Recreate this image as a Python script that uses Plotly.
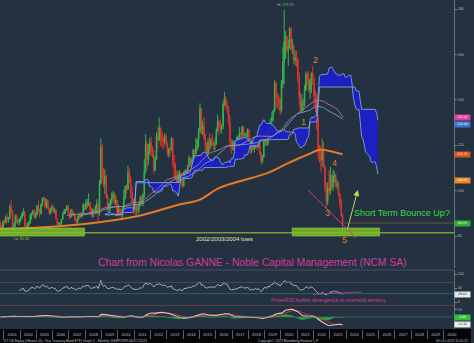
import numpy as np
import pandas as pd
import plotly.graph_objects as go

# ---------------- data (monthly bars, Oct 2002 - Oct 2023) ----------------
opens = [
    86.0, 84.0, 82.8,
    86.3, 85.9, 88.5, 87.4, 87.6, 93.0, 91.1, 84.0, 84.3, 89.1, 86.3, 86.6,
    86.9, 88.1, 90.2, 90.9, 84.6, 84.0, 84.9, 85.7, 89.2, 89.8, 91.0, 88.2,
    89.5, 93.2, 91.2, 89.8, 93.7, 96.5, 96.7, 93.0, 95.5, 92.3, 90.2, 91.5,
    92.7, 91.1, 91.4, 87.6, 85.0, 85.2, 85.6, 87.4, 89.8, 91.3, 91.4, 93.3,
    90.0, 88.4, 91.5, 89.6, 89.8, 86.9, 86.0, 88.3, 89.5, 88.5, 89.8, 93.8,
    92.0, 94.6, 94.7, 94.8, 91.8, 89.3, 91.5, 90.9, 92.8, 93.9, 90.3, 103.0,
    119.2, 106.1, 102.6, 106.5, 97.2, 92.2, 94.4, 95.8, 96.5, 98.7, 94.6, 95.6,
    89.9, 91.9, 90.6, 89.2, 92.1, 96.8, 101.8, 100.5, 107.8, 105.2, 99.2, 95.3,
    93.9, 91.3, 92.6, 91.3, 93.2, 96.9, 94.3, 98.3, 108.6, 120.6, 113.7, 117.0,
    121.2, 118.1, 115.5, 109.0, 114.0, 124.0, 122.3, 127.6, 124.6, 121.7, 121.3, 124.0,
    121.2, 116.2, 118.3, 118.0, 122.8, 111.9, 109.5, 106.5, 103.8, 106.0, 107.6, 104.4,
    102.0, 108.0, 108.9, 108.0, 110.8, 114.4, 112.4, 113.3, 117.7, 116.2, 119.7, 122.4,
    125.9, 136.0, 127.0, 128.6, 123.3, 119.1, 116.4, 121.4, 120.0, 122.2, 121.3, 120.3,
    120.6, 126.5, 130.5, 128.5, 127.3, 128.4, 137.9, 140.6, 137.0, 136.8, 130.0, 121.6,
    119.1, 119.5, 121.0, 119.7, 121.9, 123.8, 125.1, 124.7, 128.1, 124.5, 124.6, 124.8,
    126.9, 121.2, 118.1, 121.3, 118.3, 120.6, 121.5, 119.1, 121.2, 116.3, 112.9, 114.9,
    121.5, 122.4, 120.4, 126.5, 124.2, 131.0, 132.8, 135.4, 147.6, 142.2, 140.9, 140.4,
    135.5, 147.4, 156.5, 165.5, 168.0, 162.0, 163.5, 171.5, 162.3, 163.4, 157.4, 158.6,
    157.7, 150.3, 141.2, 135.6, 138.9, 138.9, 144.3, 151.2, 149.6, 144.3, 148.3, 151.7,
    148.2, 141.6, 138.6, 131.7, 116.8, 116.3, 113.4, 118.2, 110.1, 101.6, 95.2, 101.1,
    99.6, 106.9, 101.7, 106.4, 106.8, 102.1, 102.9, 98.4, 95.0, 88.7,
]
highs = [
    86.5, 85.0, 87.0,
    87.5, 89.0, 90.0, 88.4, 93.9, 95.9, 91.5, 85.8, 89.5, 89.4, 87.6, 88.0,
    89.0, 90.5, 92.3, 91.0, 85.9, 85.9, 86.6, 89.9, 90.4, 91.6, 91.8, 90.5,
    93.8, 95.6, 92.1, 94.4, 96.9, 97.2, 96.9, 96.3, 96.0, 92.8, 92.2, 93.9,
    93.5, 92.4, 91.6, 88.0, 86.1, 86.2, 87.6, 90.5, 91.9, 92.0, 93.7, 93.6,
    90.3, 92.1, 91.7, 90.5, 90.0, 87.6, 88.9, 90.4, 90.3, 90.6, 94.6, 94.3,
    96.1, 96.4, 98.9, 95.0, 92.7, 92.3, 92.0, 93.6, 96.2, 95.5, 104.7, 123.0,
    120.7, 110.0, 109.4, 107.0, 98.3, 94.5, 96.3, 99.2, 99.9, 99.3, 98.1, 96.0,
    93.8, 92.6, 92.0, 93.4, 100.6, 102.3, 102.6, 111.1, 109.8, 106.4, 101.9, 96.5,
    95.6, 93.7, 94.2, 94.8, 97.6, 97.7, 98.9, 113.9, 124.9, 121.7, 120.6, 123.2,
    123.9, 119.7, 118.1, 115.5, 125.6, 128.2, 132.2, 127.9, 126.2, 123.5, 125.3, 124.9,
    121.5, 119.0, 119.3, 123.6, 123.1, 116.0, 112.3, 108.8, 108.6, 109.2, 108.0, 105.1,
    108.6, 109.4, 109.6, 111.4, 115.4, 114.8, 114.3, 118.4, 118.2, 123.4, 122.7, 127.6,
    138.5, 136.6, 130.9, 132.5, 125.2, 121.1, 123.0, 125.3, 123.4, 125.0, 121.5, 123.0,
    127.9, 133.5, 131.2, 131.3, 129.3, 139.5, 143.6, 141.6, 139.6, 137.3, 133.4, 123.0,
    122.2, 122.1, 121.8, 123.7, 124.4, 128.0, 125.6, 128.7, 128.5, 125.7, 125.6, 127.4,
    127.2, 121.8, 122.2, 122.3, 122.2, 122.4, 122.6, 121.7, 121.5, 116.9, 115.7, 121.8,
    123.8, 123.4, 127.6, 127.5, 131.7, 134.5, 135.7, 148.9, 147.8, 143.2, 142.0, 140.6,
    148.8, 163.3, 179.7, 170.3, 168.4, 166.6, 172.0, 171.9, 166.8, 164.5, 161.8, 161.6,
    158.7, 151.9, 143.5, 142.4, 140.5, 146.5, 152.6, 152.0, 152.7, 149.2, 152.1, 155.1,
    149.9, 144.0, 142.6, 133.4, 120.3, 119.6, 122.9, 121.4, 111.6, 103.5, 103.6, 109.2,
    110.6, 107.0, 109.3, 108.5, 107.3, 104.8, 103.8, 99.0, 96.2, 89.9,
]
lows = [
    82.5, 81.5, 82.5,
    84.8, 85.6, 85.8, 85.9, 87.4, 89.4, 82.4, 81.6, 84.0, 85.5, 85.0, 84.8,
    86.0, 87.4, 88.9, 84.0, 82.7, 81.8, 84.0, 85.4, 87.2, 89.0, 87.6, 87.6,
    89.0, 90.5, 88.2, 89.5, 93.2, 95.3, 92.0, 92.3, 91.6, 89.4, 89.5, 90.6,
    90.3, 89.8, 87.3, 84.5, 84.0, 83.9, 84.8, 87.1, 89.4, 89.8, 91.1, 89.5,
    87.4, 87.9, 88.9, 88.6, 86.7, 84.2, 85.5, 87.3, 87.8, 88.1, 89.4, 90.9,
    91.5, 92.5, 93.2, 90.8, 88.5, 88.0, 88.4, 89.9, 89.7, 85.8, 89.0, 102.5,
    104.5, 101.5, 98.5, 96.6, 90.6, 88.7, 90.9, 93.6, 95.2, 93.8, 93.6, 88.7,
    89.3, 88.6, 88.1, 88.3, 91.5, 96.2, 98.6, 100.3, 103.3, 96.7, 94.5, 89.8,
    89.7, 89.2, 90.3, 89.9, 93.0, 93.6, 93.1, 96.6, 107.5, 109.4, 111.2, 115.7,
    115.1, 114.5, 107.4, 108.7, 113.5, 118.3, 121.8, 119.6, 118.9, 118.2, 120.3, 118.9,
    115.3, 114.6, 114.9, 117.4, 110.6, 104.8, 104.6, 101.8, 101.9, 104.3, 102.8, 101.1,
    101.6, 105.8, 105.9, 106.8, 110.2, 110.5, 111.3, 112.5, 113.6, 115.4, 117.6, 118.6,
    125.3, 124.8, 124.4, 122.5, 117.3, 115.1, 115.8, 117.3, 118.5, 119.7, 117.9, 117.8,
    120.2, 125.8, 124.3, 126.1, 125.0, 127.1, 137.2, 135.6, 134.0, 129.2, 118.7, 116.1,
    117.8, 117.7, 117.0, 118.6, 120.0, 122.7, 122.4, 123.1, 123.7, 121.9, 122.6, 123.3,
    119.7, 115.8, 116.6, 117.6, 116.8, 118.5, 117.8, 118.8, 115.8, 111.6, 111.9, 114.5,
    119.7, 119.6, 119.8, 122.9, 123.8, 129.5, 130.6, 134.4, 136.9, 136.3, 135.6, 133.3,
    134.4, 145.1, 146.8, 158.0, 160.9, 154.9, 162.6, 161.5, 160.2, 155.9, 155.3, 154.4,
    147.5, 137.2, 134.4, 134.2, 134.9, 136.9, 143.9, 146.4, 143.4, 140.4, 142.9, 146.5,
    136.8, 134.5, 126.6, 113.8, 112.3, 108.1, 110.4, 109.9, 99.5, 91.9, 93.7, 97.6,
    98.2, 100.4, 99.8, 103.6, 101.3, 100.7, 97.5, 92.6, 88.5, 82.4,
]
closes = [
    84.0, 82.8, 86.3,
    85.9, 88.5, 87.4, 87.6, 93.0, 91.1, 84.0, 84.3, 89.1, 86.3, 86.6, 86.9,
    88.1, 90.2, 90.9, 84.6, 84.0, 84.9, 85.7, 89.2, 89.8, 91.0, 88.2, 89.5,
    93.2, 91.2, 89.8, 93.7, 96.5, 96.7, 93.0, 95.5, 92.3, 90.2, 91.5, 92.7,
    91.1, 91.4, 87.6, 85.0, 85.2, 85.6, 87.4, 89.8, 91.3, 91.4, 93.3, 90.0,
    88.4, 91.5, 89.6, 89.8, 86.9, 86.0, 88.3, 89.5, 88.5, 89.8, 93.8, 92.0,
    94.6, 94.7, 94.8, 91.8, 89.3, 91.5, 90.9, 92.8, 93.9, 90.3, 103.0, 119.2,
    106.1, 102.6, 106.5, 97.2, 92.2, 94.4, 95.8, 96.5, 98.7, 94.6, 95.6, 89.9,
    91.9, 90.6, 89.2, 92.1, 96.8, 101.8, 100.5, 107.8, 105.2, 99.2, 95.3, 93.9,
    91.3, 92.6, 91.3, 93.2, 96.9, 94.3, 98.3, 108.6, 120.6, 113.7, 117.0, 121.2,
    118.1, 115.5, 109.0, 114.0, 124.0, 122.3, 127.6, 124.6, 121.7, 121.3, 124.0, 121.2,
    116.2, 118.3, 118.0, 122.8, 111.9, 109.5, 106.5, 103.8, 106.0, 107.6, 104.4, 102.0,
    108.0, 108.9, 108.0, 110.8, 114.4, 112.4, 113.3, 117.7, 116.2, 119.7, 122.4, 125.9,
    136.0, 127.0, 128.6, 123.3, 119.1, 116.4, 121.4, 120.0, 122.2, 121.3, 120.3, 120.6,
    126.5, 130.5, 128.5, 127.3, 128.4, 137.9, 140.6, 137.0, 136.8, 130.0, 121.6, 119.1,
    119.5, 121.0, 119.7, 121.9, 123.8, 125.1, 124.7, 128.1, 124.5, 124.6, 124.8, 126.9,
    121.2, 118.1, 121.3, 118.3, 120.6, 121.5, 119.1, 121.2, 116.3, 112.9, 114.9, 121.5,
    122.4, 120.4, 126.5, 124.2, 131.0, 132.8, 135.4, 147.6, 142.2, 140.9, 140.4, 135.5,
    147.4, 156.5, 165.5, 168.0, 162.0, 163.5, 171.5, 162.3, 163.4, 157.4, 158.6, 157.7,
    150.3, 141.2, 135.6, 138.9, 138.9, 144.3, 151.2, 149.6, 144.3, 148.3, 151.7, 148.2,
    141.6, 138.6, 131.7, 116.8, 116.3, 113.4, 118.2, 110.1, 101.6, 95.2, 101.1, 99.6,
    106.9, 101.7, 106.4, 106.8, 102.1, 102.9, 98.4, 95.0, 88.7, 85.7,
]

# long-term moving average (thick orange)
orange_dates = ["2002-10-08", "2006-06-01", "2009-01-01", "2011-04-01", "2013-09-01",
                "2015-01-01", "2016-03-01", "2017-06-01", "2019-03-01", "2020-06-01",
                "2021-08-01", "2022-06-01", "2023-04-01", "2023-10-15"]
orange_vals = [83.0, 84.3, 86.2, 88.8, 93.7, 95.9, 101.0, 104.0, 107.7, 112.0,
               115.7, 118.0, 117.0, 116.0]

# value tags on the right axis
tag_values = [132.42, 129.30, 115.71, 104.68]
tag_colors = ["#e0409a", "#3a78d4", "#d9581c", "#e8861e"]

year_ticks_start = "2003-01-01"

# ---------------- indicators ----------------
n = len(closes)
months = pd.date_range("2002-10-01", periods=n, freq="MS") + pd.Timedelta(days=14)
future = pd.date_range("2002-10-01", periods=n + 26, freq="MS") + pd.Timedelta(days=14)

c = pd.Series(closes)
h = pd.Series(highs)
l = pd.Series(lows)

tenkan = (h.rolling(9).max() + l.rolling(9).min()) / 2
kijun = (h.rolling(26).max() + l.rolling(26).min()) / 2
span_a = ((tenkan + kijun) / 2).values
span_b = ((h.rolling(52).max() + l.rolling(52).min()) / 2).values
cloud_x = future[26:]
mask = ~np.isnan(span_b)

sma50 = c.rolling(50).mean()
sma60 = c.rolling(60).mean()

delta = c.diff()
gain = delta.clip(lower=0)
loss = -delta.clip(upper=0)
ag = gain.ewm(alpha=1 / 14, min_periods=14, adjust=False).mean()
al = loss.ewm(alpha=1 / 14, min_periods=14, adjust=False).mean()
rsi = 100 - 100 / (1 + ag / al)

ema12 = c.ewm(span=12, adjust=False).mean()
ema26 = c.ewm(span=26, adjust=False).mean()
macd = ema12 - ema26
signal = macd.ewm(span=9, adjust=False).mean()
hist = macd - signal

# ---------------- figure ----------------
BG = "#233140"
W, H = 474, 343
XR = ["2002-10-08", "2030-08-18"]

def py(px):
    return 1 - px / H

fig = go.Figure()

# Ichimoku cloud
fig.add_trace(go.Scatter(x=cloud_x[mask], y=span_b[mask], mode="lines",
                         line=dict(color="#8fb0e6", width=0.8), hoverinfo="skip"))
fig.add_trace(go.Scatter(x=cloud_x[mask], y=span_a[mask], mode="lines", fill="tonexty",
                         fillcolor="rgba(28,32,200,0.95)",
                         line=dict(color="#8fb0e6", width=0.8), hoverinfo="skip"))

# moving averages
fig.add_trace(go.Scatter(x=months, y=sma60, mode="lines",
                         line=dict(color="#6f9fd0", width=0.9)))
fig.add_trace(go.Scatter(x=months, y=sma50, mode="lines",
                         line=dict(color="#b87a86", width=0.9)))

# candles
fig.add_trace(go.Candlestick(
    x=months, open=opens, high=highs, low=lows, close=closes,
    increasing=dict(line=dict(color="#35b54a", width=1), fillcolor="#35b54a"),
    decreasing=dict(line=dict(color="#e0352b", width=1), fillcolor="#e0352b"),
    whiskerwidth=0))

fig.add_trace(go.Scatter(x=pd.to_datetime(orange_dates), y=orange_vals, mode="lines",
                         line=dict(color="#e8792a", width=2, shape="spline")))

# last price line
fig.add_trace(go.Scatter(x=[months[-1], pd.Timestamp(XR[1])], y=[closes[-1], closes[-1]],
                         mode="lines", line=dict(color="#8a6a3a", width=0.7)))

# RSI
fig.add_trace(go.Scatter(x=months, y=rsi, mode="lines", yaxis="y2",
                         line=dict(color="#c5ccd4", width=0.8)))

# MACD
fig.add_trace(go.Scatter(x=months, y=hist, mode="lines", yaxis="y3", fill="tozeroy",
                         fillcolor="rgba(40,175,60,0.9)", line=dict(color="rgba(40,175,60,0.9)", width=0.5)))
fig.add_trace(go.Scatter(x=months, y=signal, mode="lines", yaxis="y3",
                         line=dict(color="#c8303c", width=1)))
fig.add_trace(go.Scatter(x=months, y=macd, mode="lines", yaxis="y3",
                         line=dict(color="#e6c4cc", width=1.1)))

axfont = dict(size=3.6, color="#b5bcc2")
fig.update_layout(
    width=W, height=H, margin=dict(l=0, r=0, t=0, b=0),
    paper_bgcolor=BG, plot_bgcolor=BG, showlegend=False,
    font=dict(family="Liberation Sans"),
    xaxis=dict(domain=[0, 457 / W], range=XR, type="date", anchor="y3",
               rangeslider=dict(visible=False), showgrid=False, zeroline=False,
               tickformat="%Y", dtick="M12", tick0=year_ticks_start, ticklabelmode="period",
               ticks="outside", ticklen=9, tickcolor="#5a5f66", tickwidth=0.6,
               tickfont=dict(size=4, color="#b8bec4"), ticklabelstandoff=-8,
               showline=False),
    yaxis=dict(domain=[py(268), 1], range=[65.9, 184.0], side="right", anchor="x",
               tickvals=[80, 100, 120, 140, 160, 180], ticks="outside", ticklen=2,
               tickcolor="#6f8a7a", showline=True, linecolor="#5f7d6c", linewidth=0.8,
               showgrid=False, zeroline=False, tickfont=axfont),
    yaxis2=dict(domain=[py(305), py(270)], range=[-10.7, 114.3], side="right", anchor="x",
                tickvals=[0, 50, 100], ticks="outside", ticklen=2, tickcolor="#6f8a7a",
                showline=True, linecolor="#5f7d6c", linewidth=0.8,
                showgrid=False, zeroline=False, tickfont=axfont),
    yaxis3=dict(domain=[py(329), py(305)], range=[-17.1, 17.1], side="right", anchor="x",
                tickvals=[10], ticks="outside", ticklen=2, tickcolor="#6f8a7a",
                showline=True, linecolor="#5f7d6c", linewidth=0.8,
                showgrid=False, zeroline=False, tickfont=axfont),
)

shapes = [
    # bottom black band
    dict(type="rect", xref="paper", yref="paper", x0=0, x1=1, y0=0, y1=py(329),
         fillcolor="#050608", line=dict(width=0), layer="below"),
    # panel separators
    dict(type="line", xref="paper", yref="paper", x0=0, x1=457 / W, y0=py(270), y1=py(270),
         line=dict(color="#59636c", width=0.7)),
    dict(type="line", xref="paper", yref="paper", x0=0, x1=457 / W, y0=py(305.5), y1=py(305.5),
         line=dict(color="#6a4848", width=0.7)),
    dict(type="line", xref="x domain", yref="y2", x0=0, x1=1, y0=70, y1=70,
         line=dict(color="#7a4c4c", width=0.7)),
    dict(type="line", xref="x domain", yref="y2", x0=0, x1=1, y0=30, y1=30,
         line=dict(color="#2f7a60", width=0.7)),
    dict(type="line", xref="x domain", yref="y3", x0=0, x1=1, y0=0, y1=0,
         line=dict(color="#4d6a5c", width=0.7)),
    # 2002/2003/2004 lows
    dict(type="line", xref="x domain", yref="y", x0=0, x1=1, y0=81.4, y1=81.4,
         line=dict(color="#a9cf2c", width=1)),
    dict(type="rect", xref="x", yref="y", x0="2002-09-01", x1="2007-12-15", y0=80.0, y1=83.5,
         fillcolor="rgba(125,190,40,0.85)", line=dict(color="#9fd040", width=0.6)),
    dict(type="rect", xref="x", yref="y", x0="2020-09-10", x1="2026-01-20", y0=80.0, y1=83.5,
         fillcolor="rgba(125,190,40,0.85)", line=dict(color="#9fd040", width=0.6)),
    # wedge line
    dict(type="line", xref="x", yref="y", x0="2021-09-01", y0=100.3, x1="2024-08-10", y1=79.1,
         line=dict(color="#c53aa8", width=1)),
    # RSI divergence line
    dict(type="line", xref="x", yref="y2", x0="2021-12-25", y0=27, x1="2024-12-15", y1=36,
         line=dict(color="#c53aa8", width=0.8)),
]
fig.update_layout(shapes=shapes)

ann = []
# bounce arrow
ann.append(dict(x="2024-09-20", y=100.3, ax="2024-01-20", ay=82.2, xref="x", yref="y",
                axref="x", ayref="y", showarrow=True, arrowhead=2, arrowsize=1.2,
                arrowwidth=1, arrowcolor="#b8dc58", text=""))
# wave labels
wave_c = "#e8782e"
for txt, xd, yv in [("1", "2021-05-15", 130.2), ("2", "2022-02-05", 157.5),
                    ("3", "2022-11-20", 90.1), ("4", "2023-04-25", 112.2),
                    ("5", "2023-12-05", 78.3)]:
    ann.append(dict(x=xd, y=yv, xref="x", yref="y", text=txt, showarrow=False,
                    font=dict(size=9, color=wave_c)))

def pa(text, x, y, size, color, xanchor="center", **kw):
    d = dict(text=text, x=x / W, y=py(y), xref="paper", yref="paper", showarrow=False,
             xanchor=xanchor, yanchor="middle", font=dict(size=size, color=color))
    d.update(kw)
    return d

ann.append(pa("Hi: 179.70", 287, 5.5, 3.6, "#8fbf9a"))
ann.append(pa("Short Term Bounce Up?", 405, 213, 9, "#3ed83e"))
ann.append(pa("2002/2003/2004 lows", 226, 238.5, 6, "#e6e2b0"))
ann.append(pa("Lo: 81.50", 22, 238.5, 3.6, "#9fd040"))
ann.append(pa("Chart from Nicolas GANNE - Noble Capital Management (NCM SA)", 254, 262, 10.3, "#d23c9c"))
ann.append(pa("Price/RSI bullish divergence in oversold territory", 331, 300, 5.4, "#cf3f9f"))
ann.append(pa("TLT US Equity (iShares 20+ Year Treasury Bond ETF) Graph 1 - Monthly 10SEP1999-06OCT2023",
              1, 341, 3.3, "#b8bec4", xanchor="left"))
ann.append(pa("Copyright\u00a9 2023 Bloomberg Finance L.P.", 290, 341, 3.3, "#b8bec4"))
ann.append(pa("06-Oct-2023 11:05:25", 473, 341, 3.3, "#b8bec4", xanchor="right"))

# right value tags
def tag(v, yref, color, fcolor="#ffffff"):
    return dict(text=f"{v:.2f}", x=1, xref="paper", xanchor="right", y=v, yref=yref,
                yanchor="middle", showarrow=False, bgcolor=color, borderpad=0.4,
                font=dict(size=3.4, color=fcolor), width=14)

for v, col in zip(tag_values, tag_colors):
    ann.append(tag(v, "y", col))
ann.append(tag(closes[-1], "y", "#2fae3c"))
ann.append(tag(float(rsi.iloc[-1]), "y2", "#e8e8e8", "#222222"))
ann.append(tag(float(hist.iloc[-1]), "y3", "#2fc03c"))
ann.append(tag(float(macd.iloc[-1]), "y3", "#eeeeee", "#222222"))

fig.update_layout(annotations=ann)
fig.write_html("out.html")
